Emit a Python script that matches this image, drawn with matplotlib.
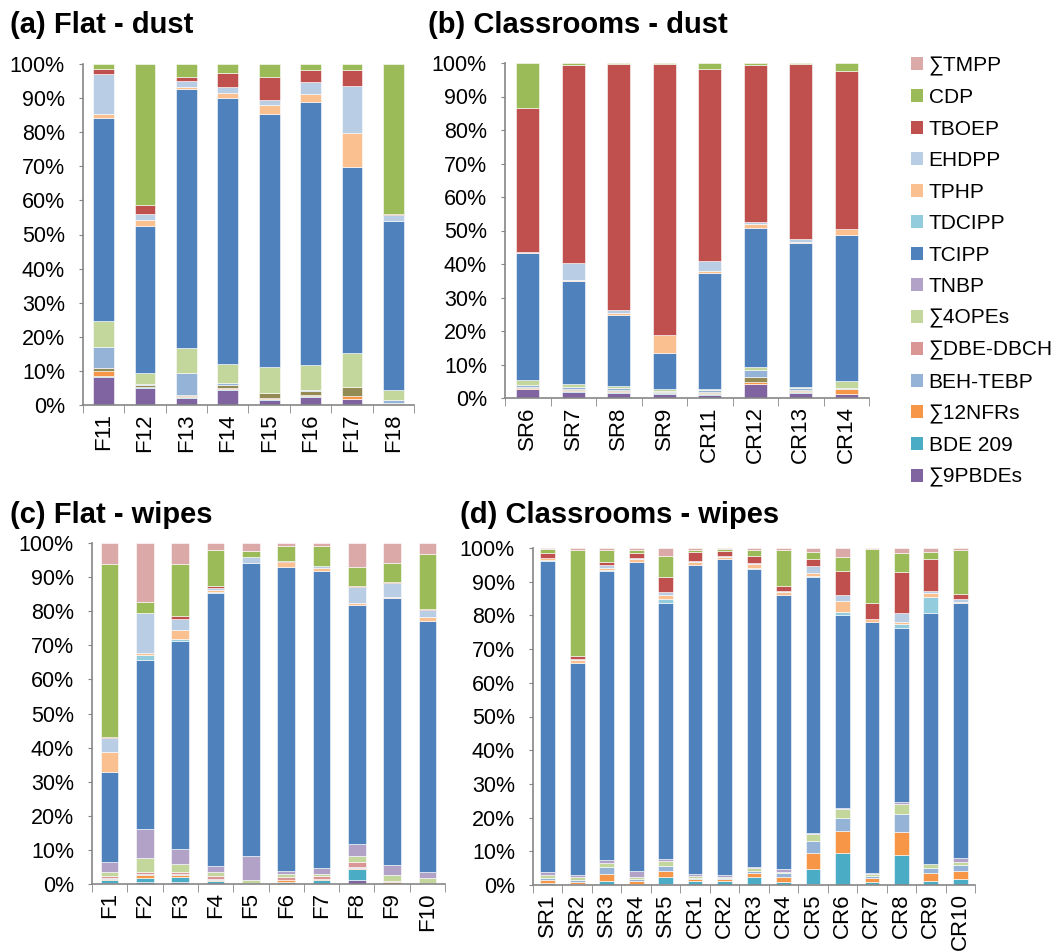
import matplotlib.pyplot as plt
from matplotlib.patches import Patch
import numpy as np

plt.rcParams['font.family'] = ['Liberation Sans', 'DejaVu Sans']
plt.rcParams['axes.unicode_minus'] = False

# stacking order, bottom -> top ('_unlabelled' has no legend entry)
compounds = ['∑9PBDEs', 'BDE 209', '∑12NFRs', '_unlabelled', 'BEH-TEBP', '∑DBE-DBCH',
             '∑4OPEs', 'TNBP', 'TCIPP', 'TDCIPP', 'TPHP', 'EHDPP', 'TBOEP', 'CDP', '∑TMPP']
colors = ['#8064A2', '#4BACC6', '#F79646', '#948A54', '#95B3D7', '#D99694',
          '#C3D69B', '#B3A2C7', '#4F81BD', '#93CDDD', '#FAC090', '#B9CDE5', '#C0504D', '#9BBB59', '#DBA9A8']

# columns follow `compounds`; values in % of the total per sample
flat_dust_samples = ['F11', 'F12', 'F13', 'F14', 'F15', 'F16', 'F17', 'F18']
flat_dust = [
    [8.3, 0.3, 1.3, 1.0, 6.2, 0, 7.6, 0, 59.6, 0, 1.0, 11.8, 1.4, 1.5, 0],
    [4.9, 0.3, 0.2, 0.5, 0.3, 0, 3.1, 0, 43.3, 0, 1.7, 1.8, 2.6, 41.3, 0],
    [2.1, 0.1, 0.4, 0.2, 6.5, 0, 7.3, 0, 76.1, 0, 0.6, 1.6, 1.4, 3.7, 0],
    [4.4, 0.3, 0.3, 0.9, 0.6, 0, 5.5, 0, 78.1, 0, 1.5, 1.6, 4.3, 2.5, 0],
    [1.5, 0.2, 0.3, 1.4, 0.2, 0, 7.6, 0, 74.0, 0, 2.8, 1.4, 6.9, 3.7, 0],
    [2.4, 0.2, 0.4, 1.1, 0.4, 0, 7.2, 0, 77.2, 0, 2.4, 3.3, 3.6, 1.8, 0],
    [1.7, 0.2, 0.6, 2.7, 0.2, 0, 9.9, 0, 54.6, 0, 9.9, 13.8, 4.6, 1.8, 0],
    [0.3, 0, 0.2, 0.1, 0.9, 0, 2.9, 0, 49.6, 0, 0, 1.8, 0.3, 43.9, 0],
]

class_dust_samples = ['SR6', 'SR7', 'SR8', 'SR9', 'CR11', 'CR12', 'CR13', 'CR14']
class_dust = [
    [2.6, 0.1, 0.4, 0.2, 0.6, 0, 1.5, 0, 37.8, 0, 0.4, 0, 43.1, 13.3, 0],
    [1.9, 0.1, 0.5, 0.3, 0.6, 0, 0.8, 0, 30.7, 0, 0.3, 5.0, 59.2, 0.6, 0],
    [1.6, 0.1, 0.4, 0.4, 0.6, 0, 0.5, 0, 21.2, 0, 0.5, 1.0, 73.5, 0.2, 0],
    [1.3, 0.1, 0.2, 0.2, 0.4, 0, 0.4, 0, 10.9, 0, 5.2, 0, 81.0, 0.3, 0],
    [1.0, 0.1, 0.3, 0.5, 0.4, 0, 0.3, 0, 34.6, 0, 0.6, 3.1, 57.2, 1.9, 0],
    [4.2, 0.1, 0.4, 1.7, 2.0, 0, 0.9, 0, 41.5, 0, 1.0, 0.8, 46.9, 0.5, 0],
    [1.6, 0.1, 0.3, 0.5, 0.4, 0, 0.5, 0, 43.0, 0, 0.3, 0.9, 52.1, 0.3, 0],
    [1.2, 0.1, 1.4, 0, 0.4, 0, 2.0, 0, 43.6, 0, 1.7, 0, 47.3, 2.3, 0],
]

flat_wipes_samples = ['F1', 'F2', 'F3', 'F4', 'F5', 'F6', 'F7', 'F8', 'F9', 'F10']
flat_wipes = [
    [0.4, 0.8, 0.4, 0, 0.2, 0.5, 1.3, 2.8, 26.5, 0, 5.9, 4.1, 0.2, 50.6, 6.3],
    [0.7, 1.0, 0.9, 0, 0.4, 0.5, 4.0, 8.5, 49.7, 1.5, 0.5, 11.7, 0.2, 3.2, 17.2],
    [0.6, 1.5, 0.4, 0, 0.4, 0.7, 2.3, 4.5, 60.9, 0.5, 2.7, 3.3, 0.9, 15.0, 6.3],
    [0, 0.9, 0.4, 0, 0.1, 0.8, 1.2, 1.9, 80.1, 0.3, 0.5, 0.7, 0.5, 10.6, 2.0],
    [0, 0.1, 0.1, 0, 0, 0.1, 0.9, 7.1, 85.9, 0, 0, 1.8, 0, 1.7, 2.3],
    [0, 0.7, 0.5, 0, 0, 0.9, 0.8, 0.9, 89.2, 0, 1.3, 0, 0.4, 4.5, 0.8],
    [0, 1.1, 0.4, 0, 0, 0.7, 0.8, 1.6, 87.3, 0, 0.8, 0.6, 0, 5.8, 0.9],
    [1.2, 3.2, 0.4, 0, 0.3, 1.3, 1.8, 3.4, 70.2, 0, 0.5, 4.9, 0.2, 5.6, 7.0],
    [0, 0, 0.5, 0, 0, 0.5, 1.6, 3.0, 78.2, 0, 0.3, 4.1, 0.3, 5.7, 5.8],
    [0, 0, 0.2, 0, 0, 0.2, 1.5, 1.7, 73.5, 0, 1.1, 2.2, 0.2, 16.3, 3.1],
]

class_wipes_samples = ['SR1', 'SR2', 'SR3', 'SR4', 'SR5', 'CR1', 'CR2', 'CR3', 'CR4',
                       'CR5', 'CR6', 'CR7', 'CR8', 'CR9', 'CR10']
class_wipes = [
    [0, 0.6, 0.9, 0, 0.7, 0, 0.8, 0.9, 92.3, 0.3, 0.6, 0, 1.3, 1.2, 0.4],
    [0, 0.4, 0.6, 0, 0.6, 0, 0.7, 0.7, 63.0, 0, 0.8, 0.3, 0.8, 31.5, 0.6],
    [0, 1.2, 2.1, 0, 2.1, 0, 1.0, 0.9, 86.0, 0.3, 0.4, 1.0, 0.9, 3.5, 0.6],
    [0, 0.4, 0.8, 0, 0.5, 0, 0.8, 1.7, 91.7, 0, 0.7, 0.5, 1.3, 1.0, 0.6],
    [0.3, 2.0, 1.9, 0, 1.5, 0, 1.4, 0.5, 76.1, 1.2, 1.2, 0.8, 4.6, 6.2, 2.3],
    [0, 1.3, 0.6, 0, 0.3, 0, 0.5, 0.5, 91.8, 0, 0.7, 0.3, 2.7, 0.8, 0.5],
    [0, 1.2, 0.5, 0, 0.4, 0, 0.4, 0.5, 93.7, 0, 0.5, 0.5, 1.3, 0.7, 0.3],
    [0, 2.3, 1.2, 0, 0.7, 0, 0.7, 0.3, 88.5, 0.3, 1.3, 0.3, 2.0, 1.8, 0.6],
    [0, 1.0, 1.3, 0, 1.2, 0, 0.5, 0.6, 81.6, 0, 0.8, 0.3, 1.5, 10.6, 0.6],
    [0.3, 4.3, 5.0, 0, 3.5, 0, 1.9, 0.5, 76.0, 0.2, 0.8, 2.2, 2.0, 2.0, 1.3],
    [0, 9.6, 6.4, 0, 4.0, 0, 2.6, 0.3, 57.2, 0.9, 3.3, 1.8, 7.1, 4.2, 2.6],
    [0, 1.0, 1.2, 0, 0.5, 0, 0.5, 0.3, 74.6, 0, 0.7, 0, 5.0, 15.8, 0.4],
    [0, 8.9, 6.7, 0, 5.6, 0, 2.8, 0.6, 51.8, 1.0, 0.7, 2.6, 12.3, 5.4, 1.6],
    [0, 1.3, 2.2, 0, 1.4, 0, 1.2, 0.2, 74.3, 4.9, 1.2, 0.5, 9.4, 2.3, 1.1],
    [0, 1.7, 2.5, 0, 1.7, 0, 0.9, 1.1, 75.8, 0, 0.4, 0.8, 1.4, 13.1, 0.6],
]

AXIS_GREY = '#868686'


def draw_panel(ax, samples, rows):
    vals = np.array(rows, dtype=float).T
    x = np.arange(len(samples))
    bottom = np.zeros(len(samples))
    for k in range(len(compounds)):
        bars = ax.bar(x, vals[k], 0.5, bottom=bottom, color=colors[k],
                      edgecolor='white', linewidth=0.4)
        for b in bars:
            if b.get_height() <= 0:
                b.set_visible(False)
        bottom += vals[k]

    ax.set_xlim(-0.5, len(samples) - 0.5)
    ax.set_ylim(0, 100)
    ax.set_yticks(np.arange(0, 101, 10))
    ax.set_yticklabels([f'{v}%' for v in range(0, 101, 10)], fontsize=15.5)
    ax.set_xticks(x)
    ax.set_xticklabels(samples, rotation=90, fontsize=16)
    ax.set_xticks(np.arange(len(samples) + 1) - 0.5, minor=True)
    ax.tick_params(axis='x', which='major', length=0, pad=6)
    ax.tick_params(axis='x', which='minor', length=6, color=AXIS_GREY, direction='out')
    ax.tick_params(axis='y', length=3, color=AXIS_GREY, direction='out', pad=10)
    for side in ['top', 'right']:
        ax.spines[side].set_visible(False)
    for side in ['left', 'bottom']:
        ax.spines[side].set_color(AXIS_GREY)
        ax.spines[side].set_linewidth(1.2)


fig = plt.figure(figsize=(10.58, 9.52), dpi=100)
W, H = 1058, 952


def add_axes_px(left, top, right, bottom):
    return fig.add_axes([left / W, 1 - bottom / H, (right - left) / W, (bottom - top) / H])


ax_a = add_axes_px(83, 64, 414, 405)
ax_b = add_axes_px(505, 63, 869, 398)
ax_c = add_axes_px(92, 543, 445, 884)
ax_d = add_axes_px(533, 548, 975, 885)

draw_panel(ax_a, flat_dust_samples, flat_dust)
draw_panel(ax_b, class_dust_samples, class_dust)
draw_panel(ax_c, flat_wipes_samples, flat_wipes)
draw_panel(ax_d, class_wipes_samples, class_wipes)

title_kw = dict(fontsize=21, fontweight='bold', va='center', ha='left')
fig.text(10 / W, 1 - 25 / H, '(a) Flat - dust', **title_kw)
fig.text(428 / W, 1 - 25 / H, '(b) Classrooms - dust', **title_kw)
fig.text(10 / W, 1 - 515 / H, '(c) Flat - wipes', **title_kw)
fig.text(460 / W, 1 - 515 / H, '(d) Classrooms - wipes', **title_kw)

handles = [Patch(facecolor=colors[k], edgecolor='none', label=compounds[k])
           for k in range(len(compounds) - 1, -1, -1) if not compounds[k].startswith('_')]
fig.legend(handles=handles, loc='upper left', bbox_to_anchor=(911 / W, 1 - 56 / H),
           frameon=False, fontsize=15, handlelength=0.58, handleheight=0.58,
           handletextpad=0.27, labelspacing=0.6, borderpad=0, borderaxespad=0)

fig.savefig('out.png', dpi=100)
